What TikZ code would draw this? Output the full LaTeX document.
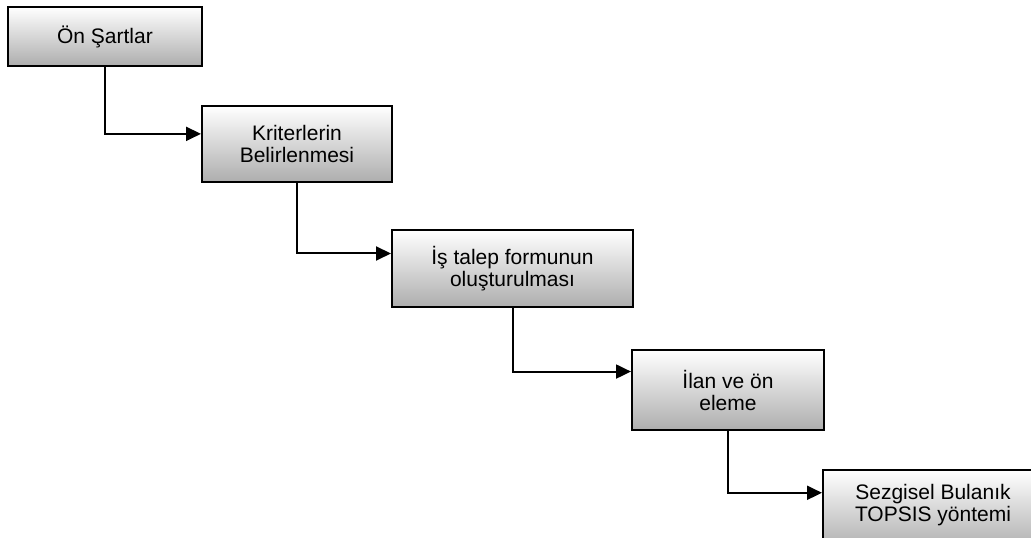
\documentclass[tikz,border=0pt]{standalone}
\usepackage{fontspec}
\setmainfont{Liberation Sans}
\usetikzlibrary{arrows.meta,calc}
\tikzset{
  box/.style={draw=black, line width=2pt, top color=white, bottom color=black!32,
    inner sep=0pt, align=center, font=\fontsize{21}{22}\selectfont},
  arr/.style={line width=2pt, -{Triangle[length=15pt,width=14pt]}}
}
\begin{document}
\begin{tikzpicture}[x=1pt,y=-1pt]
\useasboundingbox (0,0) rectangle (1031,538);
\clip (0,0) rectangle (1031,538);
\node[box, minimum width=194pt, minimum height=59pt] (b1) at (105,36.5) {Ön Şartlar};
\node[box, minimum width=190pt, minimum height=76pt] (b2) at (297,144) {Kriterlerin\\Belirlenmesi};
\node[box, minimum width=241pt, minimum height=77pt] (b3) at (512.5,268.5) {İş talep formunun\\oluşturulması};
\node[box, minimum width=192pt, minimum height=80pt] (b4) at (728,390) {İlan ve ön\\eleme};
\node[box, minimum width=220pt, minimum height=80pt] (b5) at (933,510) {Sezgisel Bulanık\\TOPSIS yöntemi\\[-8pt]\mbox{}};
\draw[arr] (b1.south) |- ($(b2.north west)!0.37!(b2.south west)$);
\draw[arr] (b2.south) |- ($(b3.north west)!0.31!(b3.south west)$);
\draw[arr] (b3.south) |- ($(b4.north west)!0.275!(b4.south west)$);
\draw[arr] (b4.south) |- ($(b5.north west)!0.29!(b5.south west)$);
\end{tikzpicture}
\end{document}
